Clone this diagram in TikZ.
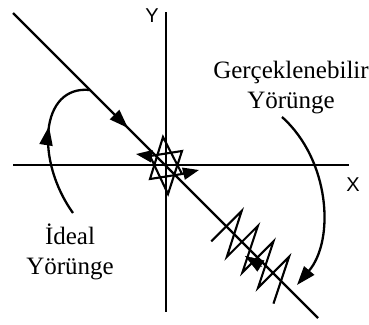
\documentclass[tikz,border=0pt]{standalone}
\usepackage{fontspec}
\setmainfont{Liberation Serif}
\newfontfamily\axisfont{Liberation Sans}
\usetikzlibrary{arrows.meta,decorations.markings}

\begin{document}
\begin{tikzpicture}[
  x=1pt, y=-1pt,
  axis/.style={line width=2.4pt},
  track/.style={line width=2.3pt},
  zig/.style={line width=2.1pt, line join=miter},
  tip/.style={-{Triangle[length=19pt, width=13pt]}},
  small tip/.style={-{Triangle[length=16pt, width=12pt]}},
  caption/.style={font=\fontsize{25}{30}\selectfont, align=center, inner sep=0pt},
  axis label/.style={font=\axisfont\fontsize{20}{24}\selectfont, inner sep=0pt},
  mid arrow/.style={postaction={decorate}, decoration={markings,
      mark=at position #1 with {\arrow{Triangle[length=19pt, width=13pt]}}}},
]
  \useasboundingbox (0,0) rectangle (369,324);

  % Axes
  \coordinate (O) at (166,165);
  \coordinate (x-from) at (13,165);
  \coordinate (x-to) at (349,165);
  \coordinate (y-from) at (166,12);
  \coordinate (y-to) at (166,312);
  \draw[axis] (x-from) -- (x-to);
  \draw[axis] (y-from) -- (y-to);
  \node[axis label] (xlab) at (353,185) {X};
  \node[axis label] (ylab) at (152,16) {Y};

  % Ideal trajectory
  \coordinate (diag-from) at (13,13);
  \coordinate (diag-to) at (318,318);
  \draw[track, mid arrow=0.377] (diag-from) -- (diag-to);

  % Realisable trajectory: star at the origin
  \coordinate (s-t) at (163,137);
  \coordinate (s-tr) at (182,151);
  \coordinate (s-br) at (182,174);
  \coordinate (s-b) at (168,194);
  \coordinate (s-bl) at (150,179);
  \coordinate (s-tl) at (150,156);
  \coordinate (s-left) at (136,154);
  \coordinate (s-right) at (199,170);
  \draw[zig] (s-t) -- (s-bl) -- (s-br) -- cycle;
  \draw[zig] (s-b) -- (s-tl) -- (s-tr) -- cycle;
  \draw[zig, small tip] (s-tl) -- (s-left);
  \draw[zig, small tip] (s-br) -- (s-right);

  % Realisable trajectory: zigzag further out
  \begin{scope}[shift={(O)}, rotate=-45]
    \draw[zig] (86,22) -- (86,-21) -- (108,22) -- (108,-22) -- (130,22)
      -- (130,-22) -- (152,22) -- (152,-22) -- (174,22);
    \draw[tip] (140,4) -- (120,8.5);
  \end{scope}

  % Labels
  \node[caption] (ideal) at (70,252) {İdeal\\Yörünge};
  \node[caption] (real) at (291,88) {Gerçeklenebilir\\Yörünge};

  % Curved arrows
  \coordinate (ideal-from) at (73,213);
  \coordinate (ideal-to) at (90,90);
  \draw[track, mid arrow=0.6] (ideal-from) .. controls (35,160) and (40,85) .. (ideal-to);
  \coordinate (real-from) at (282,117);
  \coordinate (real-to) at (297,285);
  \draw[track, tip] (real-from) .. controls (330,160) and (335,240) .. (real-to);
\end{tikzpicture}
\end{document}
